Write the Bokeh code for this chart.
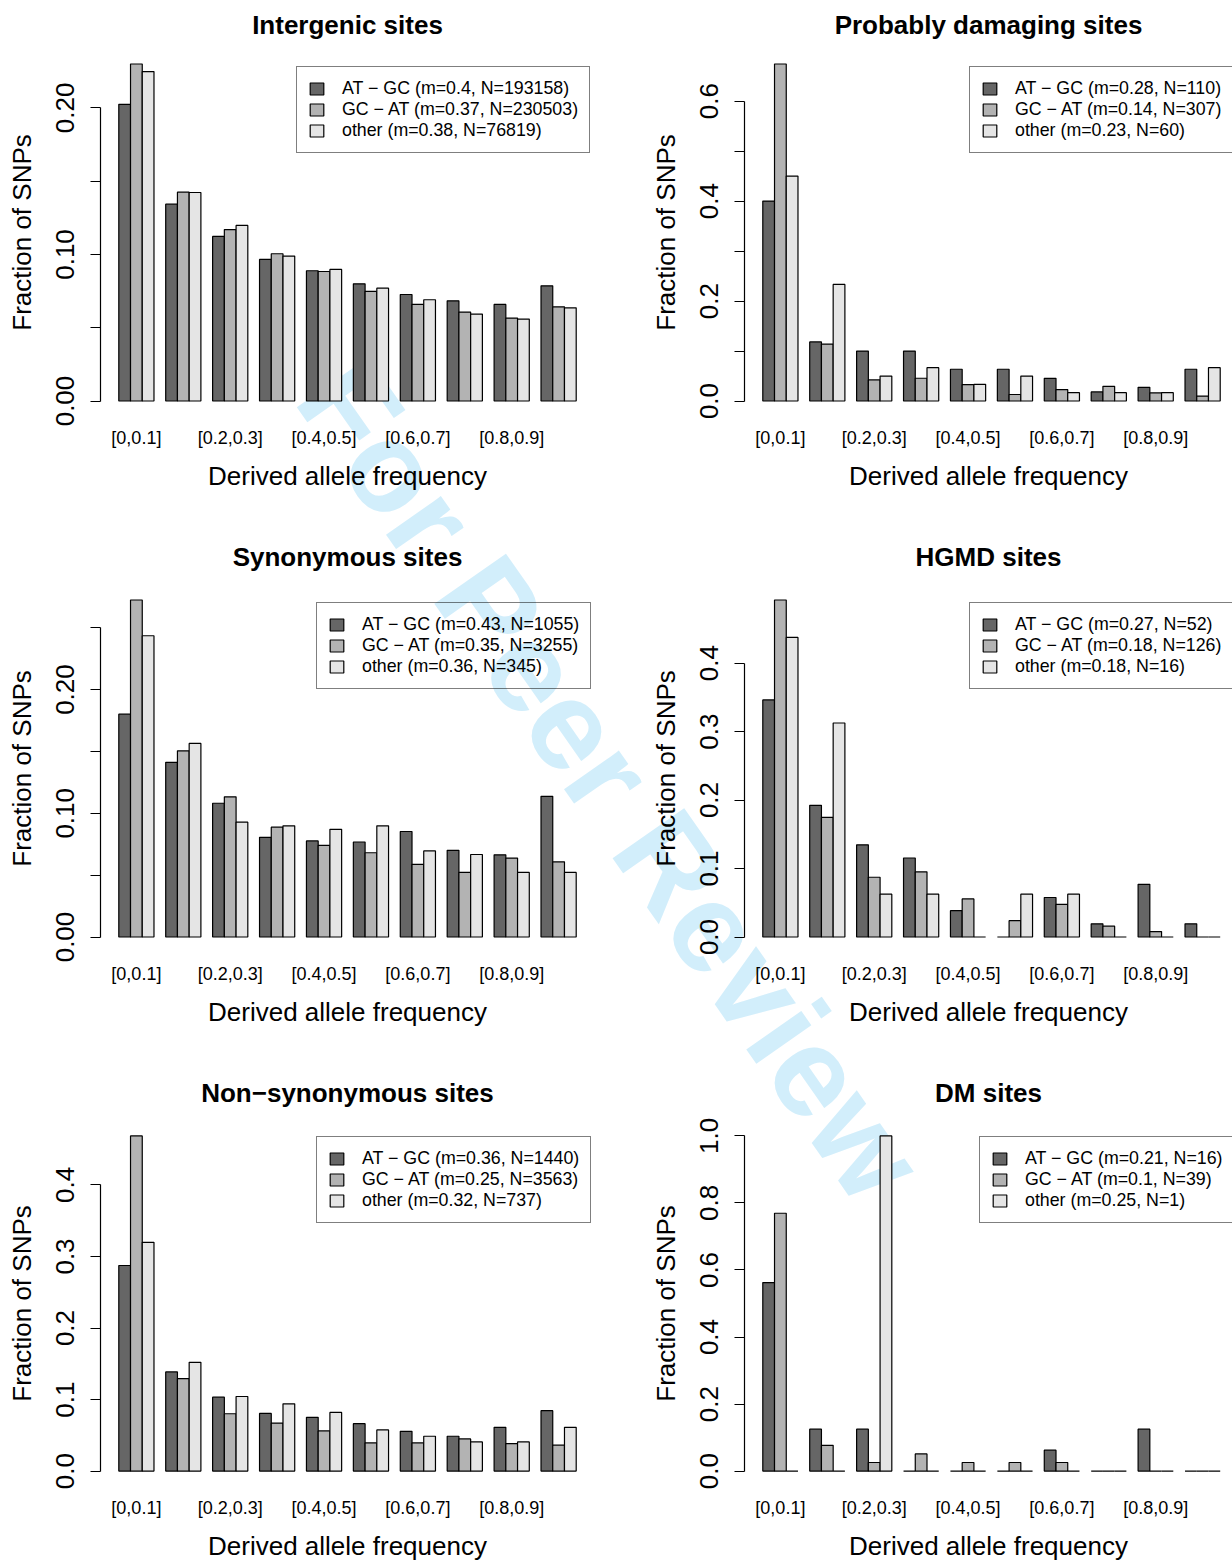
import math

from bokeh.embed import file_html
from bokeh.models import (FixedTicker, GridBox, Label, Legend, LegendItem,
                          PrintfTickFormatter, Range1d)
from bokeh.plotting import figure
from bokeh.resources import INLINE

# ---------------------------------------------------------------------------
# Data: fraction of SNPs per derived allele frequency bin, by mutation class
# ---------------------------------------------------------------------------
freq_bins = ["[0,0.1]", "[0.1,0.2]", "[0.2,0.3]", "[0.3,0.4]", "[0.4,0.5]",
             "[0.5,0.6]", "[0.6,0.7]", "[0.7,0.8]", "[0.8,0.9]", "[0.9,1]"]
classes = ["AT \u2212 GC", "GC \u2212 AT", "other"]

intergenic_at_gc = [0.2025, 0.1343, 0.1123, 0.0966, 0.0889, 0.0800, 0.0727, 0.0684, 0.0659, 0.0786]
intergenic_gc_at = [0.2300, 0.1425, 0.1170, 0.1005, 0.0884, 0.0748, 0.0659, 0.0607, 0.0566, 0.0643]
intergenic_other = [0.2248, 0.1423, 0.1198, 0.0989, 0.0898, 0.0770, 0.0691, 0.0593, 0.0559, 0.0636]
intergenic_m = [0.4, 0.37, 0.38]
intergenic_n = [193158, 230503, 76819]

damaging_at_gc = [0.4000, 0.1182, 0.1000, 0.1000, 0.0636, 0.0636, 0.0455, 0.0182, 0.0273, 0.0636]
damaging_gc_at = [0.6743, 0.1140, 0.0423, 0.0456, 0.0326, 0.0130, 0.0228, 0.0293, 0.0163, 0.0098]
damaging_other = [0.4500, 0.2333, 0.0500, 0.0667, 0.0333, 0.0500, 0.0167, 0.0167, 0.0167, 0.0667]
damaging_m = [0.28, 0.14, 0.23]
damaging_n = [110, 307, 60]

synonymous_at_gc = [0.1801, 0.1412, 0.1081, 0.0806, 0.0777, 0.0768, 0.0853, 0.0701, 0.0664, 0.1137]
synonymous_gc_at = [0.2724, 0.1505, 0.1133, 0.0888, 0.0740, 0.0681, 0.0587, 0.0522, 0.0638, 0.0608]
synonymous_other = [0.2435, 0.1565, 0.0928, 0.0899, 0.0870, 0.0899, 0.0696, 0.0667, 0.0522, 0.0522]
synonymous_m = [0.43, 0.35, 0.36]
synonymous_n = [1055, 3255, 345]

hgmd_at_gc = [0.3462, 0.1923, 0.1346, 0.1154, 0.0385, 0.0, 0.0577, 0.0192, 0.0769, 0.0192]
hgmd_gc_at = [0.4921, 0.1746, 0.0873, 0.0952, 0.0556, 0.0238, 0.0476, 0.0159, 0.0079, 0.0]
hgmd_other = [0.4375, 0.3125, 0.0625, 0.0625, 0.0, 0.0625, 0.0625, 0.0, 0.0, 0.0]
hgmd_m = [0.27, 0.18, 0.18]
hgmd_n = [52, 126, 16]

nonsyn_at_gc = [0.2874, 0.1386, 0.1034, 0.0806, 0.0751, 0.0663, 0.0556, 0.0487, 0.0612, 0.0844]
nonsyn_gc_at = [0.4686, 0.1293, 0.0802, 0.0672, 0.0561, 0.0394, 0.0394, 0.0450, 0.0385, 0.0362]
nonsyn_other = [0.3198, 0.1520, 0.1043, 0.0941, 0.0820, 0.0575, 0.0487, 0.0408, 0.0408, 0.0612]
nonsyn_m = [0.36, 0.25, 0.32]
nonsyn_n = [1440, 3563, 737]

dm_at_gc = [0.5625, 0.125, 0.125, 0.0, 0.0, 0.0, 0.0625, 0.0, 0.125, 0.0]
dm_gc_at = [0.7692, 0.0769, 0.0256, 0.0513, 0.0256, 0.0256, 0.0256, 0.0, 0.0, 0.0]
dm_other = [0.0, 0.0, 1.0, 0.0, 0.0, 0.0, 0.0, 0.0, 0.0, 0.0]
dm_m = [0.21, 0.1, 0.25]
dm_n = [16, 39, 1]

panels = [
    dict(title="Intergenic sites", series=[intergenic_at_gc, intergenic_gc_at, intergenic_other],
         m=intergenic_m, n=intergenic_n,
         yticks=[0.0, 0.1, 0.2], yminor=[0.05, 0.15], yfmt="%.2f"),
    dict(title="Probably damaging sites", series=[damaging_at_gc, damaging_gc_at, damaging_other],
         m=damaging_m, n=damaging_n,
         yticks=[0.0, 0.2, 0.4, 0.6], yminor=[0.1, 0.3, 0.5], yfmt="%.1f"),
    dict(title="Synonymous sites", series=[synonymous_at_gc, synonymous_gc_at, synonymous_other],
         m=synonymous_m, n=synonymous_n,
         yticks=[0.0, 0.1, 0.2], yminor=[0.05, 0.15, 0.25], yfmt="%.2f"),
    dict(title="HGMD sites", series=[hgmd_at_gc, hgmd_gc_at, hgmd_other],
         m=hgmd_m, n=hgmd_n,
         yticks=[0.0, 0.1, 0.2, 0.3, 0.4], yminor=[], yfmt="%.1f"),
    dict(title="Non\u2212synonymous sites", series=[nonsyn_at_gc, nonsyn_gc_at, nonsyn_other],
         m=nonsyn_m, n=nonsyn_n,
         yticks=[0.0, 0.1, 0.2, 0.3, 0.4], yminor=[], yfmt="%.1f"),
    dict(title="DM sites", series=[dm_at_gc, dm_gc_at, dm_other],
         m=dm_m, n=dm_n,
         yticks=[0.0, 0.2, 0.4, 0.6, 0.8, 1.0], yminor=[], yfmt="%.1f"),
]

# ---------------------------------------------------------------------------
# Styling and page geometry
# ---------------------------------------------------------------------------
FONT = "Liberation Sans"
BAR_COLORS = ["#666666", "#B3B3B3", "#E5E5E5"]
LINE_W = 1.2

COL_W = [616, 616]
BORDER_L = [100, 128]
FRAME_W = [494, 488]
ROW_H = [506, 536, 521]
BORDER_T = [50, 80, 80]
FRAME_H = 364
TITLE_ALIGN = ["top", "bottom", "bottom"]
TITLE_STANDOFF = [17, 30, 30]
LEGEND_X = [196, 225, 216, 225, 216, 235]   # legend box left, px from frame left
LEGEND_TOP_GAP = 18
LEGEND_H = 85

N_GROUPS = len(freq_bins)
XPAD = 0.04 * (4 * N_GROUPS - 1)
PX_PER_UNIT = FRAME_W[0] / (4 * N_GROUPS - 1 + 2 * XPAD)

PAGE_W = sum(COL_W)
PAGE_H = sum(ROW_H)

# watermark across the page
WM_TEXT = "For Peer Review"
WM_CENTER = (556, 795)
WM_ANGLE = -math.radians(55)
WM_SIZE = "127px"
WM_COLOR = "#D2EEFB"


def make_panel(r, c, spec, idx):
    x0 = 1 - XPAD
    x1 = x0 + FRAME_W[c] / PX_PER_UNIT
    top = max(max(s) for s in spec["series"])
    y0, y1 = -0.04 * top, 1.04 * top

    p = figure(width=COL_W[c], height=ROW_H[r],
               x_range=Range1d(x0, x1), y_range=Range1d(y0, y1),
               output_backend="svg", toolbar_location=None,
               min_border_left=BORDER_L[c],
               min_border_right=COL_W[c] - BORDER_L[c] - FRAME_W[c],
               min_border_top=BORDER_T[r],
               min_border_bottom=ROW_H[r] - BORDER_T[r] - FRAME_H)
    p.outline_line_color = None
    p.grid.visible = False
    # transparent so the page watermark underneath stays visible
    p.background_fill_alpha = 0
    p.border_fill_alpha = 0

    renderers = []
    for k, (series, color) in enumerate(zip(spec["series"], BAR_COLORS)):
        xs = [1.5 + 4 * g + k for g in range(N_GROUPS)]
        rr = p.vbar(x=xs, top=series, bottom=0, width=1,
                    fill_color=color, line_color="black", line_width=LINE_W)
        renderers.append(rr)

    # title
    p.title.text = spec["title"]
    p.title.align = "center"
    p.title.vertical_align = TITLE_ALIGN[r]
    p.title.text_font = FONT
    p.title.text_font_size = "26px"
    p.title.text_font_style = "bold"
    p.title.text_color = "black"
    p.title.standoff = TITLE_STANDOFF[r]

    # y axis
    yax = p.yaxis[0]
    yax.ticker = FixedTicker(ticks=spec["yticks"], minor_ticks=spec["yminor"])
    yax.formatter = PrintfTickFormatter(format=spec["yfmt"])
    yax.bounds = (0, max(spec["yticks"] + spec["yminor"]))
    yax.major_label_orientation = "vertical"
    yax.major_tick_in = 0
    yax.major_tick_out = 10
    yax.minor_tick_in = 0
    yax.minor_tick_out = 10
    yax.axis_line_width = LINE_W
    yax.major_tick_line_width = LINE_W
    yax.minor_tick_line_width = LINE_W
    yax.minor_tick_line_color = "black"
    yax.axis_line_color = "black"
    yax.major_tick_line_color = "black"
    yax.major_label_text_font = FONT
    yax.major_label_text_font_size = "26px"
    yax.major_label_text_color = "black"
    yax.major_label_standoff = 16
    yax.axis_label = "Fraction of SNPs"
    yax.axis_label_text_font = FONT
    yax.axis_label_text_font_size = "26px"
    yax.axis_label_text_font_style = "normal"
    yax.axis_label_text_color = "black"
    yax.axis_label_standoff = 17

    # x axis: every other bin is labelled
    xax = p.xaxis[0]
    centers = [2.5 + 4 * g for g in range(0, N_GROUPS, 2)]
    xax.ticker = FixedTicker(ticks=centers, minor_ticks=[])
    xax.major_label_overrides = {cx: freq_bins[g] for cx, g in zip(centers, range(0, N_GROUPS, 2))}
    xax.axis_line_color = None
    xax.major_tick_line_color = None
    xax.minor_tick_line_color = None
    xax.major_tick_out = 0
    xax.major_tick_in = 0
    xax.major_label_text_font = FONT
    xax.major_label_text_font_size = "18px"
    xax.major_label_text_color = "black"
    xax.major_label_standoff = 13
    xax.axis_label = "Derived allele frequency"
    xax.axis_label_text_font = FONT
    xax.axis_label_text_font_size = "26px"
    xax.axis_label_text_font_style = "normal"
    xax.axis_label_text_color = "black"
    xax.axis_label_standoff = 10

    # legend
    items = [LegendItem(label=f"{cls} (m={m}, N={n})", renderers=[rr])
             for cls, m, n, rr in zip(classes, spec["m"], spec["n"], renderers)]
    legend = Legend(items=items,
                    location=(LEGEND_X[idx], FRAME_H - LEGEND_TOP_GAP - LEGEND_H),
                    label_text_font=FONT, label_text_font_size="17.8px",
                    label_text_color="black",
                    glyph_width=17, glyph_height=15, label_height=17,
                    label_standoff=17, spacing=0, padding=11, margin=0,
                    border_line_color="black", border_line_width=LINE_W,
                    background_fill_alpha=0)
    p.add_layout(legend)
    return p


# page-sized backdrop carrying the watermark, laid under the six panels
backdrop = figure(width=PAGE_W, height=PAGE_H,
                  x_range=Range1d(0, PAGE_W), y_range=Range1d(PAGE_H, 0),
                  x_axis_type=None, y_axis_type=None,
                  output_backend="svg", toolbar_location=None,
                  min_border=0)
backdrop.outline_line_color = None
backdrop.grid.visible = False
backdrop.add_layout(Label(x=WM_CENTER[0], y=WM_CENTER[1], text=WM_TEXT, angle=WM_ANGLE,
                          text_align="center", text_baseline="middle",
                          text_font=FONT, text_font_style="bold",
                          text_font_size=WM_SIZE, text_color=WM_COLOR))

children = [(backdrop, 0, 0, 3, 2)]
for idx, spec in enumerate(panels):
    r, c = divmod(idx, 2)
    children.append((make_panel(r, c, spec, idx), r, c))

page = GridBox(children=children, spacing=0)

open("out.html", "w").write(file_html(page, INLINE))
